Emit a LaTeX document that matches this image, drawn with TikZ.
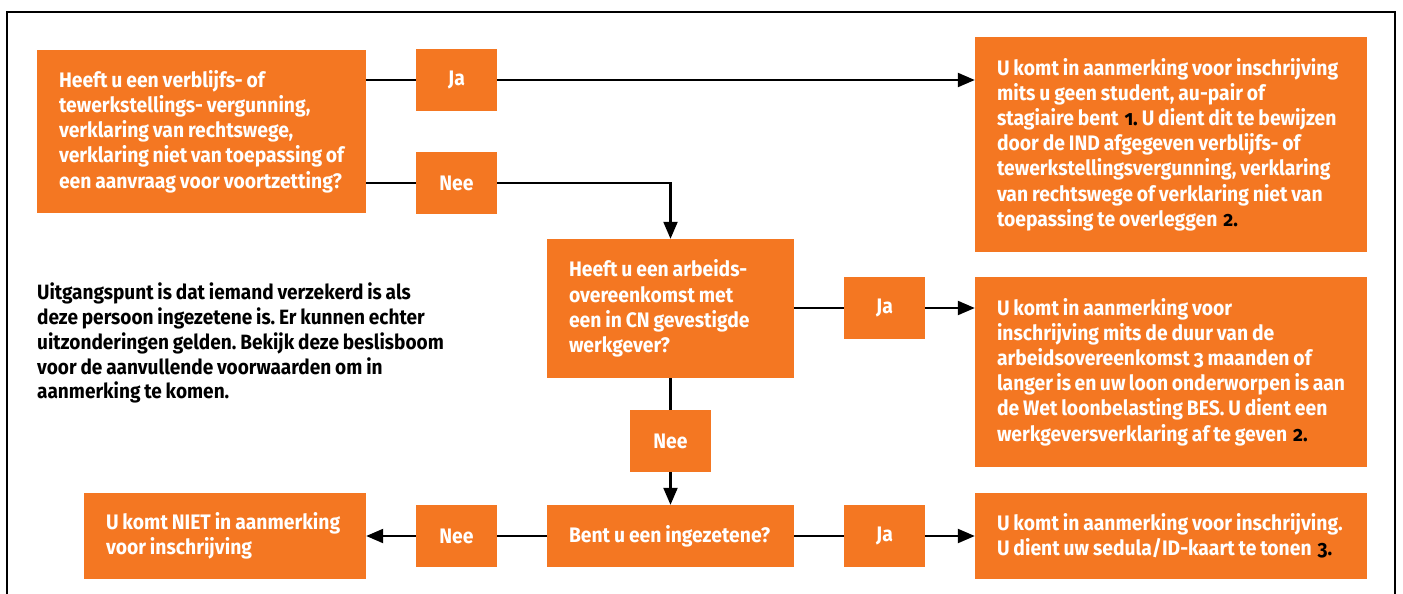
\documentclass[tikz,border=0pt]{standalone}
\usepackage{fontspec}
\setmainfont{Fira Sans}[Numbers=OldStyle, FakeStretch=0.92, WordSpace=0.85]
\usetikzlibrary{arrows.meta}
\definecolor{oranje}{RGB}{244,119,34}
\newcommand{\fn}[1]{\kern2pt\textcolor{black}{#1}}
\frenchspacing
\tikzset{
  box/.style={fill=oranje, text=white, font=\bfseries\fontsize{21}{25.2}\selectfont,
    align=flush left, inner xsep=22pt, inner ysep=0pt, anchor=center},
  yn/.style={fill=oranje, text=white, font=\bfseries\fontsize{21}{25}\selectfont,
    minimum width=81pt, minimum height=62pt, inner sep=0pt},
  conn/.style={line width=2.2pt, draw=black},
  arr/.style={conn, -{Triangle[length=17pt,width=14pt]}},
}
\begin{document}
\begin{tikzpicture}[x=1pt,y=-1pt]
\useasboundingbox (0,0) rectangle (1403,594);
\draw[line width=2pt] (7,594) -- (7,12) -- (1395,12) -- (1395,594);

\node[box, text width=285pt, minimum height=163pt] (A) at (201.5,131.5)
 {Heeft u een verblijfs- of\\tewerkstellings- vergunning,\\verklaring van rechtswege,\\verklaring niet van toepassing of\\een aanvraag voor voortzetting?};
\node[yn] (ja1) at (456.5,80) {Ja};
\node[yn] (nee1) at (456.5,183) {Nee};
\node[box, text width=348pt, minimum height=215pt] (R1) at (1171,144.5)
 {U komt in aanmerking voor inschrijving\\mits u geen student, au-pair of\\stagiaire bent \fn{1.} U dient dit te bewijzen\\door de IND afgegeven verblijfs- of\\tewerkstellingsvergunning, verklaring\\van rechtswege of verklaring niet van\\toepassing te overleggen \fn{2.}};

\node[box, text width=203pt, minimum height=139pt] (B) at (670.5,308.5)
 {Heeft u een arbeids-\\overeenkomst met\\een in CN gevestigde\\werkgever?};
\node[yn] (ja2) at (884.5,308) {Ja};
\node[box, text width=348pt, minimum height=190pt] (R2) at (1171,372)
 {U komt in aanmerking voor\\inschrijving mits de duur van de\\arbeidsovereenkomst 3 maanden of\\langer is en uw loon onderworpen is aan\\de Wet loonbelasting BES. U dient een\\werkgeversverklaring af te geven \fn{2.}};

\node[yn] (nee2) at (670.5,441) {Nee};
\node[box, text width=203pt, minimum height=62pt] (C) at (670.5,536)
 {Bent u een ingezetene?};
\node[yn] (ja3) at (884.5,536) {Ja};
\node[box, text width=348pt, minimum height=86pt] (R3) at (1171,536)
 {U komt in aanmerking voor inschrijving.\\U dient uw sedula/ID-kaart te tonen \fn{3.}};
\node[yn] (nee3) at (456.5,536) {Nee};
\node[box, text width=238pt, minimum height=86pt] (D) at (225,536)
 {U komt NIET in aanmerking\\voor inschrijving};

\node[anchor=north west, align=flush left, inner sep=0pt, text=black,
  font=\bfseries\fontsize{20.7}{24.7}\selectfont] (intro) at (37,283)
 {Uitgangspunt is dat iemand verzekerd is als\\deze persoon ingezetene is. Er kunnen echter\\uitzonderingen gelden. Bekijk deze beslisboom\\voor de aanvullende voorwaarden om in\\aanmerking te komen.};

\draw[conn] (A.east |- ja1.west) -- (ja1.west);
\draw[arr] (ja1.east) -- (ja1.east -| R1.west);
\draw[conn] (A.east |- nee1.west) -- (nee1.west);
\draw[arr] (nee1.east) -| (B.north);
\draw[conn] (B.east |- ja2.west) -- (ja2.west);
\draw[arr] (ja2.east) -- (ja2.east -| R2.west);
\draw[conn] (B.south) -- (nee2.north);
\draw[arr] (nee2.south) -- (C.north);
\draw[conn] (C.east) -- (ja3.west);
\draw[arr] (ja3.east) -- (R3.west);
\draw[conn] (C.west) -- (nee3.east);
\draw[arr] (nee3.west) -- (D.east);
\end{tikzpicture}
\end{document}
